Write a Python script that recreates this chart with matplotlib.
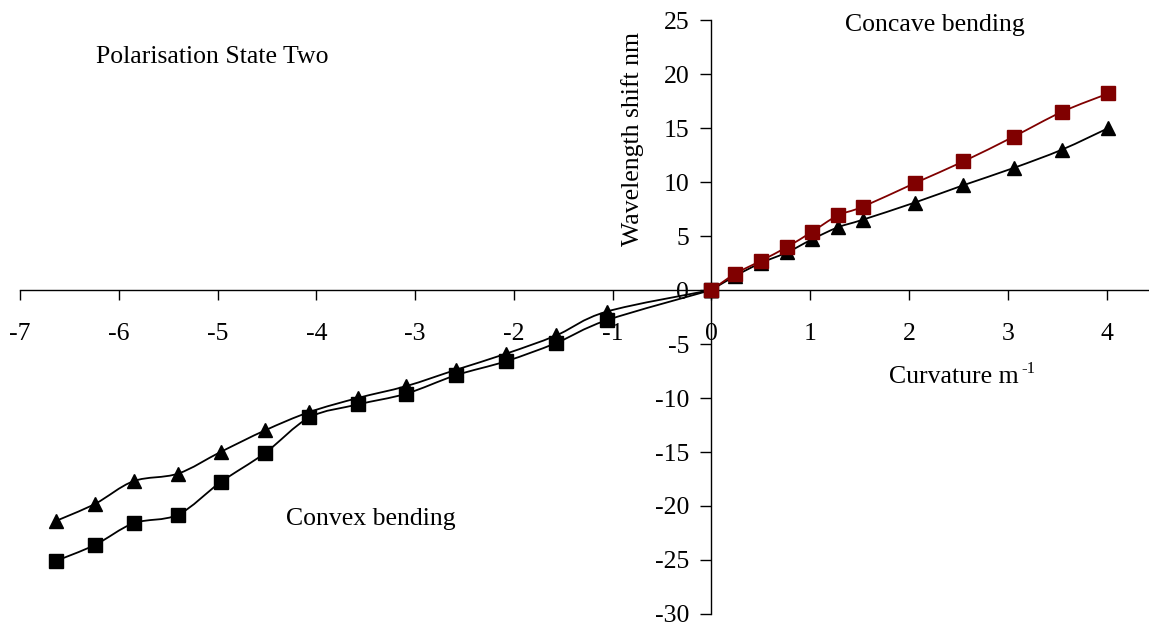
import numpy as np
import matplotlib
matplotlib.use('Agg')
import matplotlib.pyplot as plt
from matplotlib.path import Path
from matplotlib.patches import PathPatch

plt.rcParams['font.family'] = ['Liberation Serif', 'DejaVu Serif']

# convex bending (negative curvature)
convex_x = [-6.64, -6.24, -5.85, -5.40, -4.97, -4.52, -4.07, -3.58, -3.09, -2.59, -2.08, -1.57, -1.06, 0.0]
convex_tri = [-21.4, -19.8, -17.7, -17.0, -15.0, -13.0, -11.3, -10.0, -8.9, -7.4, -5.9, -4.2, -2.0, 0.0]
convex_sq = [-25.1, -23.6, -21.6, -20.8, -17.8, -15.1, -11.8, -10.6, -9.6, -7.9, -6.6, -4.9, -2.8, 0.0]

# concave bending (positive curvature)
concave_x = [0.0, 0.24, 0.50, 0.77, 1.02, 1.28, 1.53, 2.06, 2.55, 3.06, 3.55, 4.02]
concave_sq = [0.0, 1.5, 2.7, 4.0, 5.4, 6.9, 7.7, 9.9, 11.9, 14.2, 16.5, 18.2]
concave_tri = [0.0, 1.3, 2.5, 3.5, 4.7, 5.8, 6.5, 8.1, 9.7, 11.3, 13.0, 15.0]

xticks = [-7, -6, -5, -4, -3, -2, -1, 0, 1, 2, 3, 4]
yticks = [-30, -25, -20, -15, -10, -5, 0, 5, 10, 15, 20, 25]

red = '#800000'
fs = 18.5


def smooth_path(xs, ys):
    # Excel-like smoothed line: Catmull-Rom segments as cubic Bezier
    pts = np.column_stack([xs, ys]).astype(float)
    n = len(pts)
    verts = [pts[0]]
    codes = [Path.MOVETO]
    for i in range(n - 1):
        p0 = pts[i - 1] if i > 0 else pts[i]
        p1 = pts[i]
        p2 = pts[i + 1]
        p3 = pts[i + 2] if i + 2 < n else pts[i + 1]
        c1 = p1 + (p2 - p0) / 6.0
        c2 = p2 - (p3 - p1) / 6.0
        verts += [c1, c2, p2]
        codes += [Path.CURVE4] * 3
    return Path(verts, codes)


def draw_series(ax, xs, ys, marker, color):
    ax.add_patch(PathPatch(smooth_path(xs, ys), facecolor='none',
                           edgecolor=color, lw=1.3, zorder=3))
    ax.plot(xs, ys, linestyle='none', marker=marker, markersize=10,
            color=color, markeredgecolor=color, zorder=4)


fig = plt.figure(figsize=(11.49, 6.24), dpi=100)
ax = fig.add_axes([20 / 1149, 10 / 624, 1128 / 1149, 594 / 624])

draw_series(ax, convex_x, convex_tri, '^', 'black')
draw_series(ax, convex_x, convex_sq, 's', 'black')
draw_series(ax, concave_x, concave_tri, '^', 'black')
draw_series(ax, concave_x, concave_sq, 's', red)

ax.set_xlim(-7, 4.42)
ax.set_ylim(-30, 25)

for s in ['top', 'right']:
    ax.spines[s].set_visible(False)
ax.spines['left'].set_position(('data', 0))
ax.spines['bottom'].set_position(('data', 0))
ax.spines['left'].set_linewidth(1.0)
ax.spines['bottom'].set_linewidth(1.0)

ax.set_xticks(xticks)
ax.set_yticks(yticks)
ax.set_xticklabels([str(t) for t in xticks])
ax.set_yticklabels([str(t) for t in yticks])
ax.tick_params(axis='x', direction='out', length=7, width=1, labelsize=fs, pad=17)
ax.tick_params(axis='y', direction='out', length=8, width=1, labelsize=fs, pad=8)

ax.text(-6.23, 21.6, 'Polarisation State Two', fontsize=fs, ha='left', va='center')
ax.text(1.35, 24.5, 'Concave bending', fontsize=fs, ha='left', va='center')
ax.text(-4.31, -21.2, 'Convex bending', fontsize=fs, ha='left', va='center')
ax.text(1.8, -8.1, 'Curvature m', fontsize=fs, ha='left', va='center')
ax.text(3.14, -7.3, '-1', fontsize=12, ha='left', va='center')
ax.text(-0.8, 14.0, 'Wavelength shift nm', fontsize=fs, rotation=90,
        ha='center', va='center')

fig.savefig('out.png', dpi=100)
